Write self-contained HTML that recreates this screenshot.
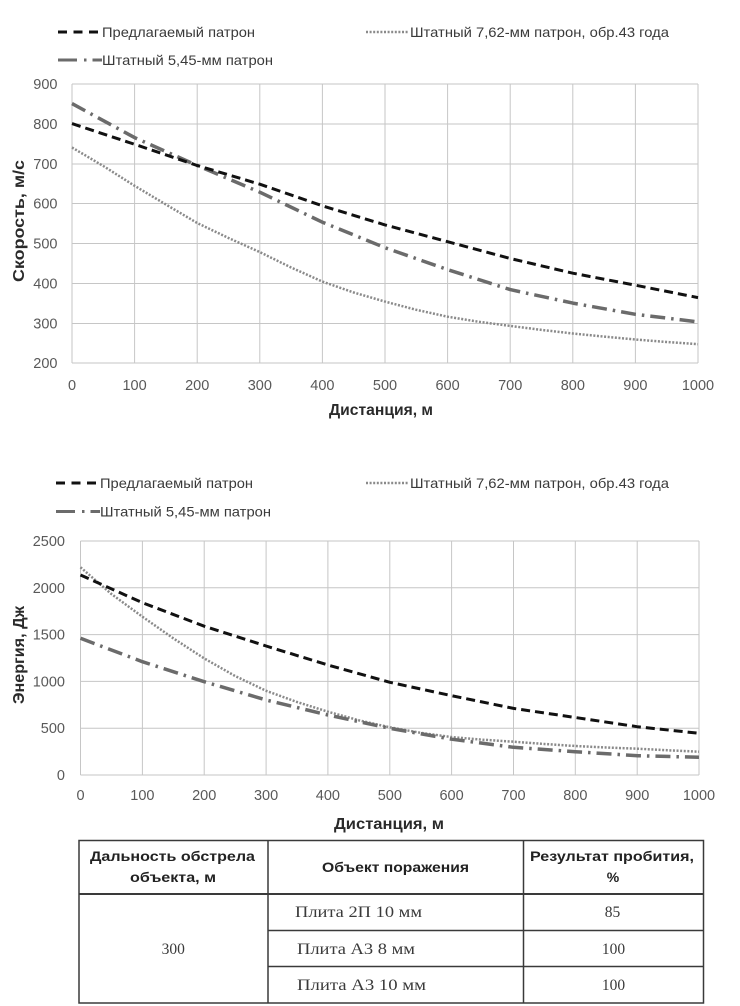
<!DOCTYPE html>
<html>
<head>
<meta charset="utf-8">
<style>
  html,body{margin:0;padding:0;background:#fff;}
  svg{display:block;}
  .tick{font-family:"Liberation Sans",sans-serif;font-size:14.5px;fill:#595959;}
  .leg{font-family:"Liberation Sans",sans-serif;font-size:14px;fill:#3a3a3a;}
  .ttl{font-family:"Liberation Sans",sans-serif;font-size:15.5px;font-weight:bold;fill:#2a2a2a;}
  .th{font-family:"Liberation Sans",sans-serif;font-size:14px;font-weight:bold;fill:#222;}
  .td{font-family:"Liberation Serif",serif;font-size:15.5px;fill:#3a3a3a;}
  .grid{stroke:#c6c6c6;stroke-width:1;fill:none;}
  .prop{fill:none;stroke:#111;stroke-width:3;stroke-dasharray:9 5;stroke-linejoin:round;}
  .s545{fill:none;stroke:#6b6b6b;stroke-width:3.5;stroke-dasharray:15 6 2.5 6;stroke-linejoin:round;}
  .s762{fill:none;stroke:#8a8a8a;stroke-width:2.5;stroke-dasharray:2 1.6;stroke-linejoin:round;}
</style>
</head>
<body>
<svg width="740" height="1006" viewBox="0 0 740 1006" xmlns="http://www.w3.org/2000/svg">
  <rect x="0" y="0" width="740" height="1006" fill="#fff"/>

  <!-- ============ TOP LEGEND ============ -->
  <line x1="58" y1="32" x2="102" y2="32" stroke="#111" stroke-width="3" stroke-dasharray="9 6.5"/>
  <text class="leg" x="102" y="37" textLength="153" lengthAdjust="spacingAndGlyphs">Предлагаемый патрон</text>
  <line x1="366" y1="32" x2="409" y2="32" stroke="#8a8a8a" stroke-width="2.5" stroke-dasharray="2 1.6"/>
  <text class="leg" x="410" y="37" textLength="259" lengthAdjust="spacingAndGlyphs">Штатный 7,62-мм патрон, обр.43 года</text>
  <line x1="58" y1="60" x2="102" y2="60" stroke="#6b6b6b" stroke-width="3" stroke-dasharray="19 7 2.5 6"/>
  <text class="leg" x="102" y="65" textLength="171" lengthAdjust="spacingAndGlyphs">Штатный 5,45-мм патрон</text>

  <!-- ============ TOP CHART ============ -->
  <g class="grid">
    <line x1="72" y1="84" x2="698" y2="84"/>
    <line x1="72" y1="124" x2="698" y2="124"/>
    <line x1="72" y1="164" x2="698" y2="164"/>
    <line x1="72" y1="203.5" x2="698" y2="203.5"/>
    <line x1="72" y1="243.5" x2="698" y2="243.5"/>
    <line x1="72" y1="283.5" x2="698" y2="283.5"/>
    <line x1="72" y1="323.5" x2="698" y2="323.5"/>
    <line x1="72" y1="363" x2="698" y2="363"/>
    <line x1="72" y1="84" x2="72" y2="363"/>
    <line x1="134.6" y1="84" x2="134.6" y2="363"/>
    <line x1="197.2" y1="84" x2="197.2" y2="363"/>
    <line x1="259.8" y1="84" x2="259.8" y2="363"/>
    <line x1="322.4" y1="84" x2="322.4" y2="363"/>
    <line x1="385" y1="84" x2="385" y2="363"/>
    <line x1="447.6" y1="84" x2="447.6" y2="363"/>
    <line x1="510.2" y1="84" x2="510.2" y2="363"/>
    <line x1="572.8" y1="84" x2="572.8" y2="363"/>
    <line x1="635.4" y1="84" x2="635.4" y2="363"/>
    <line x1="698" y1="84" x2="698" y2="363"/>
  </g>
  <g class="tick" text-anchor="end">
    <text x="57.5" y="89">900</text>
    <text x="57.5" y="129">800</text>
    <text x="57.5" y="169">700</text>
    <text x="57.5" y="208.5">600</text>
    <text x="57.5" y="248.5">500</text>
    <text x="57.5" y="288.5">400</text>
    <text x="57.5" y="328.5">300</text>
    <text x="57.5" y="368">200</text>
  </g>
  <g class="tick" text-anchor="middle">
    <text x="72" y="390">0</text>
    <text x="134.6" y="390">100</text>
    <text x="197.2" y="390">200</text>
    <text x="259.8" y="390">300</text>
    <text x="322.4" y="390">400</text>
    <text x="385" y="390">500</text>
    <text x="447.6" y="390">600</text>
    <text x="510.2" y="390">700</text>
    <text x="572.8" y="390">800</text>
    <text x="635.4" y="390">900</text>
    <text x="698" y="390">1000</text>
  </g>
  <text class="ttl" x="381" y="415" text-anchor="middle" textLength="104" lengthAdjust="spacingAndGlyphs">Дистанция, м</text>
  <text class="ttl" transform="translate(24,221) rotate(-90)" text-anchor="middle" textLength="122" lengthAdjust="spacingAndGlyphs">Скорость, м/с</text>

  <polyline class="s762" points="72,147.5 103.3,166 134.6,185.8 165.9,204.5 197.2,223 228.5,238 259.8,252.1 291.1,267.5 322.4,281.6 353.7,292.5 385,301.6 416.3,309.8 447.6,316.7 478.9,321.8 510.2,325.9 541.5,329.9 572.8,333.5 604.1,336.6 635.4,339.5 666.7,342 698,344.2"/>
  <polyline class="s545" points="72,103.6 134.6,137.6 197.2,165.5 259.8,192.2 322.4,222.2 385,247.7 447.6,269.6 510.2,289.6 572.8,303.1 635.4,314.3 698,321.9"/>
  <polyline class="prop" points="72,123.6 134.6,144.3 197.2,165.5 259.8,184.2 322.4,205.8 385,224.9 447.6,241.7 510.2,258.5 572.8,273.2 635.4,285.2 698,297.6"/>

  <!-- ============ BOTTOM LEGEND ============ -->
  <line x1="56" y1="483" x2="100" y2="483" stroke="#111" stroke-width="3" stroke-dasharray="9 6.5"/>
  <text class="leg" x="100" y="488" textLength="153" lengthAdjust="spacingAndGlyphs">Предлагаемый патрон</text>
  <line x1="366" y1="483" x2="409" y2="483" stroke="#8a8a8a" stroke-width="2.5" stroke-dasharray="2 1.6"/>
  <text class="leg" x="410" y="488" textLength="259" lengthAdjust="spacingAndGlyphs">Штатный 7,62-мм патрон, обр.43 года</text>
  <line x1="56" y1="511.5" x2="100" y2="511.5" stroke="#6b6b6b" stroke-width="3" stroke-dasharray="19 7 2.5 6"/>
  <text class="leg" x="100" y="516.5" textLength="171" lengthAdjust="spacingAndGlyphs">Штатный 5,45-мм патрон</text>

  <!-- ============ BOTTOM CHART ============ -->
  <g class="grid">
    <line x1="80.5" y1="541" x2="699" y2="541"/>
    <line x1="80.5" y1="587.8" x2="699" y2="587.8"/>
    <line x1="80.5" y1="634.6" x2="699" y2="634.6"/>
    <line x1="80.5" y1="681.4" x2="699" y2="681.4"/>
    <line x1="80.5" y1="728.2" x2="699" y2="728.2"/>
    <line x1="80.5" y1="775" x2="699" y2="775"/>
    <line x1="80.5" y1="541" x2="80.5" y2="775"/>
    <line x1="142.4" y1="541" x2="142.4" y2="775"/>
    <line x1="204.2" y1="541" x2="204.2" y2="775"/>
    <line x1="266.1" y1="541" x2="266.1" y2="775"/>
    <line x1="327.9" y1="541" x2="327.9" y2="775"/>
    <line x1="389.8" y1="541" x2="389.8" y2="775"/>
    <line x1="451.6" y1="541" x2="451.6" y2="775"/>
    <line x1="513.5" y1="541" x2="513.5" y2="775"/>
    <line x1="575.3" y1="541" x2="575.3" y2="775"/>
    <line x1="637.2" y1="541" x2="637.2" y2="775"/>
    <line x1="699" y1="541" x2="699" y2="775"/>
  </g>
  <g class="tick" text-anchor="end">
    <text x="65" y="546">2500</text>
    <text x="65" y="592.8">2000</text>
    <text x="65" y="639.6">1500</text>
    <text x="65" y="686.4">1000</text>
    <text x="65" y="733.2">500</text>
    <text x="65" y="780">0</text>
  </g>
  <g class="tick" text-anchor="middle">
    <text x="80.5" y="800">0</text>
    <text x="142.4" y="800">100</text>
    <text x="204.2" y="800">200</text>
    <text x="266.1" y="800">300</text>
    <text x="327.9" y="800">400</text>
    <text x="389.8" y="800">500</text>
    <text x="451.6" y="800">600</text>
    <text x="513.5" y="800">700</text>
    <text x="575.3" y="800">800</text>
    <text x="637.2" y="800">900</text>
    <text x="699" y="800">1000</text>
  </g>
  <text class="ttl" x="389" y="829" text-anchor="middle" textLength="110" lengthAdjust="spacingAndGlyphs">Дистанция, м</text>
  <text class="ttl" transform="translate(24,655) rotate(-90)" text-anchor="middle" textLength="98" lengthAdjust="spacingAndGlyphs">Энергия, Дж</text>

  <polyline class="s762" points="80.5,567.3 111.4,594 142.4,616.7 173.3,638.3 204.2,658.4 235.1,676 266.1,690.8 297,702 327.9,711.7 358.8,720.3 389.8,727.3 420.7,732.8 451.6,737.1 482.5,739.7 513.5,741.7 544.4,744 575.3,746 606.2,747.5 637.2,748.7 668.1,750.3 699,751.7"/>
  <polyline class="s545" points="80.5,638.3 142.4,661.7 204.2,681.7 266.1,700 327.9,715 389.8,728.3 451.6,739.2 513.5,747.3 575.3,751.7 637.2,755.7 699,757.3"/>
  <polyline class="prop" points="80.5,575 142.4,602.7 204.2,626.2 266.1,646 327.9,665 389.8,682.3 451.6,695.7 513.5,708.4 575.3,717.5 637.2,726.7 699,733.3"/>

  <!-- ============ TABLE ============ -->
  <g fill="none" stroke="#3a3a3a">
    <rect x="79" y="840.5" width="624.5" height="162.5" stroke-width="1.5"/>
    <line x1="79" y1="894" x2="703.5" y2="894" stroke-width="2"/>
    <line x1="268" y1="930.5" x2="703.5" y2="930.5" stroke-width="1.5"/>
    <line x1="268" y1="966.5" x2="703.5" y2="966.5" stroke-width="1.5"/>
    <line x1="268" y1="840.5" x2="268" y2="1003" stroke-width="1.5"/>
    <line x1="523.5" y1="840.5" x2="523.5" y2="1003" stroke-width="1.5"/>
  </g>
  <g class="th" text-anchor="middle">
    <text x="172.5" y="861" textLength="165" lengthAdjust="spacingAndGlyphs">Дальность обстрела</text>
    <text x="173" y="882" textLength="86" lengthAdjust="spacingAndGlyphs">объекта, м</text>
    <text x="395.5" y="872" textLength="147" lengthAdjust="spacingAndGlyphs">Объект поражения</text>
    <text x="612" y="861" textLength="164" lengthAdjust="spacingAndGlyphs">Результат пробития,</text>
    <text x="613" y="882">%</text>
  </g>
  <g class="td">
    <text x="173.3" y="954" text-anchor="middle">300</text>
    <text x="295" y="917" textLength="127" lengthAdjust="spacingAndGlyphs">Плита 2П 10 мм</text>
    <text x="297" y="954" textLength="118" lengthAdjust="spacingAndGlyphs">Плита А3 8 мм</text>
    <text x="297" y="990" textLength="129" lengthAdjust="spacingAndGlyphs">Плита А3 10 мм</text>
    <text x="612.5" y="917" text-anchor="middle">85</text>
    <text x="613.5" y="954" text-anchor="middle">100</text>
    <text x="613.5" y="990" text-anchor="middle">100</text>
  </g>
</svg>
</body>
</html>
